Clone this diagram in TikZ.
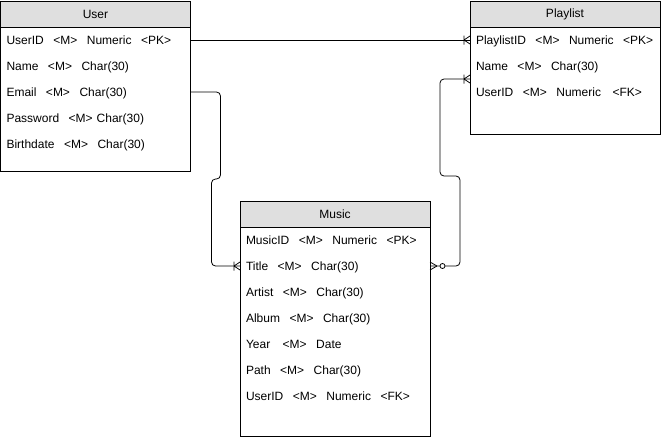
\documentclass[tikz,border=0pt]{standalone}
\usepackage{fontspec}
\setmainfont{Liberation Sans}
\usetikzlibrary{
    positioning,
    calc
}

\newcommand{\colgap}{\hspace{9.5pt}}

\begin{document}
\begin{tikzpicture}[
    x=1pt, y=-1pt,
    node distance=0pt,
    every node/.style={font=\fontsize{12}{14}\selectfont, outer sep=0pt},
    entity/.style={rectangle, draw, line width=0.8pt, fill=white,
      minimum width=190pt, anchor=north west},
    header/.style={rectangle, draw, line width=0.8pt, fill=gray!25,
      minimum width=190pt, minimum height=26pt, anchor=north},
    field/.style={rectangle, minimum height=26pt, text width=178pt,
      inner xsep=6pt, inner ysep=0pt, align=left,
      text height=8.6pt, text depth=0pt},
    relation/.style={line width=0.8pt, rounded corners=4pt},
    onemany/.pic={\draw[line width=0.8pt] (-6,0) -- (0,-4) (-6,0) -- (0,4)
      (-6,-4.5) -- (-6,4.5);},
    zeromany/.pic={\draw[line width=0.8pt] (7,0) -- (0,-4) (7,0) -- (0,4);
      \draw[line width=0.8pt, fill=white] (12.5,0) circle (2.5);}
]
\useasboundingbox (0,0) rectangle (662,439);

\node[entity, minimum height=170pt] (user) at (0.5,1) {};
\node[header] (user-head) at (user.north) {User};
\node[field, below=of user-head] (user-id) {UserID\colgap<M>\colgap Numeric\colgap<PK>};
\node[field, below=of user-id] (user-name) {Name\colgap<M>\colgap Char(30)};
\node[field, below=of user-name] (user-email) {Email\colgap<M>\colgap Char(30)};
\node[field, below=of user-email] (user-pass) {Password\colgap<M> Char(30)};
\node[field, below=of user-pass] (user-birth) {Birthdate\colgap<M>\colgap Char(30)};

\node[entity, minimum height=133pt] (playlist) at (470,1) {};
\node[header] (pl-head) at (playlist.north) {Playlist};
\node[field, below=of pl-head] (pl-id) {PlaylistID\colgap<M>\colgap Numeric\colgap<PK>};
\node[field, below=of pl-id] (pl-name) {Name\colgap<M>\colgap Char(30)};
\node[field, below=of pl-name] (pl-user) {UserID\colgap<M>\colgap Numeric\colgap\hspace{2pt}<FK>};

\node[entity, minimum height=235pt] (music) at (240,201) {};
\node[header] (mus-head) at (music.north) {Music};
\node[field, below=of mus-head] (mus-id) {MusicID\colgap<M>\colgap Numeric\colgap<PK>};
\node[field, below=of mus-id] (mus-title) {Title\colgap<M>\colgap Char(30)};
\node[field, below=of mus-title] (mus-artist) {Artist\colgap<M>\colgap Char(30)};
\node[field, below=of mus-artist] (mus-album) {Album\colgap<M>\colgap Char(30)};
\node[field, below=of mus-album] (mus-year) {Year\colgap\hspace{3pt}<M>\colgap Date};
\node[field, below=of mus-year] (mus-path) {Path\colgap<M>\colgap Char(30)};
\node[field, below=of mus-path] (mus-user) {UserID\colgap<M>\colgap Numeric\colgap<FK>};

\coordinate (pl-link) at ($(pl-name.west)!0.5!(pl-user.west)$);

\draw[relation] (user-id.east) -- (pl-id.west);
\draw[relation] (user-email.east) -- ++(30,0) -- ++(0,87) -- ++(-9,0) |- (mus-title.west);
\draw[relation] (mus-title.east) -- ++(30,0) -- ++(0,-90) -- ++(-20,0) |- (pl-link);

\pic at (pl-id.west) {onemany};
\pic at (mus-title.west) {onemany};
\pic at (pl-link) {onemany};
\pic at (mus-title.east) {zeromany};
\end{tikzpicture}
\end{document}
